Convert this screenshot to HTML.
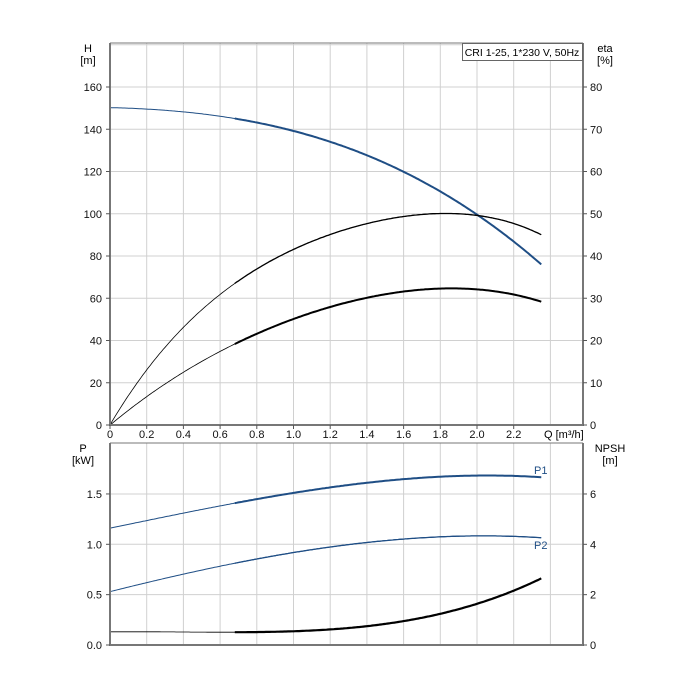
<!DOCTYPE html>
<html><head><meta charset="utf-8"><style>
body{margin:0;background:#fff}
svg{display:block;font-family:"Liberation Sans",sans-serif;font-size:11px}
</style></head><body>
<svg id="s" width="700" height="700" xmlns="http://www.w3.org/2000/svg">
<g id="grid" stroke="#d0d0d0" stroke-width="1"></g>
<g id="curves" fill="none"></g>
<g stroke="#777" stroke-width="2" fill="none">
<path d="M110,43V425H583V43"/>
<path d="M110,443V645H583V443"/>
</g>
<g stroke="#777" stroke-width="1" fill="none">
<path d="M110,43H583M110,443H583"/>
</g>
<g id="ticks" stroke="#555" stroke-width="1"></g>
<g id="txt" fill="#111"></g>
<rect x="462.5" y="43.5" width="120" height="17" fill="#fff" stroke="#666"/>
<text x="522" y="56" text-anchor="middle" font-size="10.5">CRI 1-25, 1*230 V, 50Hz</text>
<text x="88" y="52" text-anchor="middle">H</text>
<text x="88" y="64" text-anchor="middle">[m]</text>
<text x="605" y="52" text-anchor="middle">eta</text>
<text x="605" y="64" text-anchor="middle">[%]</text>
<text x="83" y="452" text-anchor="middle">P</text>
<text x="83" y="464" text-anchor="middle">[kW]</text>
<text x="610" y="452" text-anchor="middle">NPSH</text>
<text x="610" y="464" text-anchor="middle">[m]</text>
<text x="544" y="438">Q [m³/h]</text>
<text x="534" y="474" fill="#1f4e85">P1</text>
<text x="534" y="549" fill="#1f4e85">P2</text>
</svg>
<script>
var NS="http://www.w3.org/2000/svg";
function el(p,t,a,txt){var e=document.createElementNS(NS,t);for(var k in a)e.setAttribute(k,a[k]);if(txt!=null)e.textContent=txt;document.getElementById(p).appendChild(e);return e;}
var X=function(q){return 110+q*183.5;};
var Hy=function(h){return 425-h*2.1125;};
var Py=function(p){return 645-p*100.7;};
var Ny=function(n){return 645-n*25.17;};
for(var i=1;i<=12;i++){var x=X(i*0.2);el("grid","line",{x1:x,x2:x,y1:43,y2:425});el("grid","line",{x1:x,x2:x,y1:443,y2:645});}
for(var h=20;h<=180;h+=20){var y=Hy(h);el("grid","line",{x1:110,x2:583,y1:y,y2:y});}
for(var p=0.5;p<=1.5;p+=0.5){var y=Py(p);el("grid","line",{x1:110,x2:583,y1:y,y2:y});}
for(var i=0;i<=11;i++){var x=X(i*0.2);el("ticks","line",{x1:x,x2:x,y1:425,y2:429});el("txt","text",{x:x,y:438,"text-anchor":"middle"},(i*0.2).toFixed(1).replace("0.0","0"));}
for(var h=0;h<=160;h+=20){var y=Hy(h);el("ticks","line",{x1:106,x2:110,y1:y,y2:y});el("ticks","line",{x1:583,x2:587,y1:y,y2:y});
el("txt","text",{x:102,y:y+4,"text-anchor":"end"},h);el("txt","text",{x:590,y:y+4},h/2);}
for(var p=0;p<=1.5;p+=0.5){var y=Py(p);el("ticks","line",{x1:106,x2:110,y1:y,y2:y});el("txt","text",{x:102,y:y+4,"text-anchor":"end"},p.toFixed(1));}
for(var n=0;n<=6;n+=2){var y=Ny(n);el("ticks","line",{x1:583,x2:587,y1:y,y2:y});el("txt","text",{x:590,y:y+4},n);}
function polyfit(data,deg){var n=deg+1,A=[],b=[];for(var i=0;i<n;i++){A.push(new Array(n).fill(0));b.push(0);}
data.forEach(function(d){for(var i=0;i<n;i++){b[i]+=d[1]*Math.pow(d[0],i);for(var j=0;j<n;j++)A[i][j]+=Math.pow(d[0],i+j);}});
for(var c=0;c<n;c++){var m=c;for(var r=c+1;r<n;r++)if(Math.abs(A[r][c])>Math.abs(A[m][c]))m=r;var t=A[c];A[c]=A[m];A[m]=t;t=b[c];b[c]=b[m];b[m]=t;
for(var r=0;r<n;r++)if(r!=c){var f=A[r][c]/A[c][c];for(var k=c;k<n;k++)A[r][k]-=f*A[c][k];b[r]-=f*b[c];}}
var co=b.map(function(v,i){return v/A[i][i];});return function(x){var s=0;for(var i=0;i<n;i++)s+=co[i]*Math.pow(x,i);return s;};}
function curve(data,deg,fy,color,wThin,wThick){
var f=polyfit(data,deg),d="",d2="";
for(var q=0;q<=2.3501;q+=0.01){var s=X(q).toFixed(1)+","+fy(f(q)).toFixed(1);d+=(d?"L":"M")+s;if(q>=0.675)d2+=(d2?"L":"M")+s;}
el("curves","path",{d:d,stroke:color,"stroke-width":wThin});
el("curves","path",{d:d2,stroke:color,"stroke-width":wThick});}
curve([[0,150],[0.2,149.6],[0.4,148.6],[0.6,146.3],[0.8,143],[1.0,139.5],[1.2,133.8],[1.4,127],[1.6,119.8],[1.8,110.8],[2.0,99.9],[2.2,87.6],[2.35,75.3]],3,Hy,"#1f4e85",1,2);
curve([[0,0],[0.2,26],[0.4,46.9],[0.6,61],[0.8,74],[1.0,83],[1.2,90.5],[1.4,95.5],[1.6,98.5],[1.8,99.9],[2.0,99.3],[2.2,95.5],[2.35,90]],4,Hy,"#000",0.8,1.3);
curve([[0,0],[0.2,13.3],[0.4,25],[0.6,34.5],[0.8,43.5],[1.0,50.5],[1.2,55.8],[1.4,60],[1.6,63],[1.8,64.6],[2.0,64.3],[2.2,62],[2.35,58.2]],4,Hy,"#000",0.8,2);
curve([[0,1.16],[0.68,1.41],[1.0,1.51],[1.4,1.61],[1.8,1.67],[2.0,1.685],[2.2,1.68],[2.35,1.665]],3,Py,"#1f4e85",1,2);
curve([[0,0.53],[0.68,0.81],[1.0,0.92],[1.4,1.02],[1.8,1.07],[2.0,1.085],[2.2,1.08],[2.35,1.065]],3,Py,"#1f4e85",1,1.3);
curve([[0,0.52],[0.4,0.52],[0.68,0.52],[1.0,0.54],[1.2,0.6],[1.4,0.72],[1.6,0.99],[1.8,1.27],[2.0,1.63],[2.2,2.1],[2.35,2.68]],4,Ny,"#000",0.8,2.2);
</script>
</body></html>
